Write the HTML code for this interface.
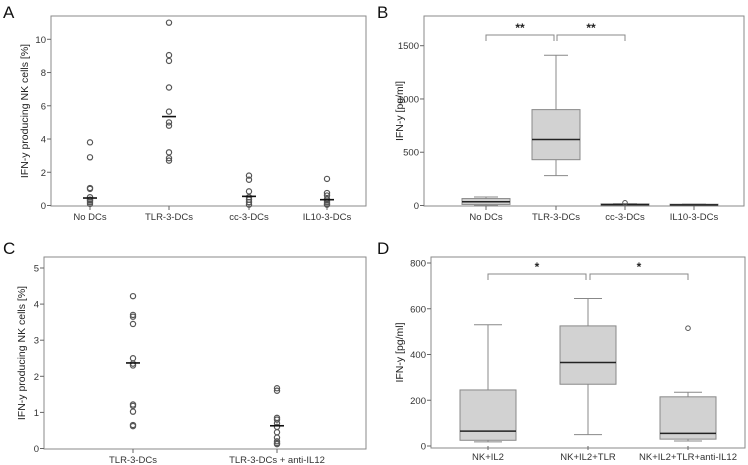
<!DOCTYPE html>
<html><head><meta charset="utf-8"><style>
body{margin:0;background:#fff;}
svg{display:block;font-family:"Liberation Sans",sans-serif;}
</style></head><body>
<svg id="fig" width="748" height="465" viewBox="0 0 748 465"></svg>
<script>
// Panel A data
const catsA=["No DCs","TLR-3-DCs","cc-3-DCs","IL10-3-DCs"];
const ptsA=[[3.8,2.9,1.05,1.0,0.5,0.35,0.3,0.2,0.1],[11,9.05,8.7,7.1,5.65,5.0,4.8,3.2,2.85,2.7],[1.8,1.55,0.85,0.5,0.35,0.2,0.05],[1.6,0.75,0.6,0.4,0.3,0.2,0.1,0.05]];
const medA=[0.45,5.35,0.55,0.35];
const ticksA=[0,2,4,6,8,10];
// Panel B data
const catsB=["No DCs","TLR-3-DCs","cc-3-DCs","IL10-3-DCs"];
const loB=[0,280,0,0],q1B=[10,430,2,2],medB=[35,620,8,6],q3B=[65,900,15,12],hiB=[80,1410,18,14];
const outB=[[],[],[25],[]];
const ticksB=[0,500,1000,1500];
// Panel C data
const catsC=["TLR-3-DCs","TLR-3-DCs + anti-IL12"];
const ptsC=[[4.22,3.7,3.65,3.45,2.5,2.35,2.3,1.22,1.18,1.02,0.65,0.62],[1.67,1.6,0.85,0.8,0.7,0.6,0.45,0.3,0.2,0.15,0.12]];
const medC=[2.37,0.63];
const ticksC=[0,1,2,3,4,5];
// Panel D data
const catsD=["NK+IL2","NK+IL2+TLR","NK+IL2+TLR+anti-IL12"];
const loD=[18,50,22],q1D=[25,270,30],medD=[65,365,55],q3D=[245,525,215],hiD=[530,645,235];
const outD=[[],[],[515]];
const ticksD=[0,200,400,600,800];

const S=document.getElementById('fig');const NS='http://www.w3.org/2000/svg';
function mk(t,a,txt){const e=document.createElementNS(NS,t);for(const k in a)e.setAttribute(k,a[k]);if(txt!==undefined)e.textContent=txt;S.appendChild(e);return e;}

function frame(p){
  const f=mk('rect',{x:p.x0,y:p.top,width:p.x1-p.x0,height:p.bot-p.top,fill:'none',stroke:'#8a8a8a','stroke-width':1});
  
  const L=mk('text',{x:p.lx,y:p.ly,'font-size':17,fill:'#111'},p.letter);
  
  p.ticks.forEach(t=>{const y=p.y(t);
    const l=mk('line',{x1:p.x0-4,x2:p.x0,y1:y,y2:y,stroke:'#666'});
    const tx=mk('text',{x:p.x0-5,y:y+3.5,'font-size':9.5,'text-anchor':'end',fill:'#333'},t);});
  p.cats.forEach((c,i)=>{const x=p.cx[i];
    const l=mk('line',{x1:x,x2:x,y1:p.axis,y2:p.axis+4,stroke:'#666'});
    const tx=mk('text',{x:x,y:p.axis+14,'font-size':9.5,'text-anchor':'middle',fill:'#333'},c);});
  const cy=(p.top+p.bot)/2;
  const yt=mk('text',{x:p.ytx,y:cy,'font-size':10.5,'text-anchor':'middle',fill:'#222',transform:`rotate(-90 ${p.ytx} ${cy})`},p.ytitle);
  
}
function dots(p,pts,med){
  pts.forEach((arr,i)=>{arr.forEach(v=>{const c=mk('circle',{cx:p.cx[i],cy:p.y(v),r:2.6,fill:'none',stroke:'#555','stroke-width':1.2});});
    const m=mk('line',{x1:p.cx[i]-7,x2:p.cx[i]+7,y1:p.y(med[i]),y2:p.y(med[i]),stroke:'#111','stroke-width':1.6});});
}
function boxes(p,lo,q1,md,q3,hi,out,w){
  lo.forEach((_,i)=>{const x=p.cx[i];
    const wl=mk('line',{x1:x,x2:x,y1:p.y(hi[i]),y2:p.y(lo[i]),stroke:'#888'});
    [hi[i],lo[i]].forEach(v=>{const c=mk('line',{x1:x-w/4,x2:x+w/4,y1:p.y(v),y2:p.y(v),stroke:'#888'});});
    const b=mk('rect',{x:x-w/2,y:p.y(q3[i]),width:w,height:Math.max(1,p.y(q1[i])-p.y(q3[i])),fill:'#d2d2d2',stroke:'#888'});
    const m=mk('line',{x1:x-w/2,x2:x+w/2,y1:p.y(md[i]),y2:p.y(md[i]),stroke:'#222','stroke-width':1.5});
    out[i].forEach(v=>{const c=mk('circle',{cx:x,cy:p.y(v),r:2.3,fill:'none',stroke:'#555'});});
  });
}
function bracket(xa,xb,y,star){
  const pth=mk('path',{d:`M${xa} ${y+6}V${y}H${xb}V${y+6}`,fill:'none',stroke:'#888'});
  const s=mk('text',{x:(xa+xb)/2,y:y-3,'font-size':12,'font-weight':'bold','text-anchor':'middle',fill:'#222'},star);
}
function lin(d0,d1,r0,r1){return v=>r0+(v-d0)*(r1-r0)/(d1-d0);}

const A={id:'panel-a',letter:'A',lx:3,ly:18,x0:51,x1:366,top:16,bot:206,axis:206,y:lin(0,10,205.5,39.3),cats:catsA,cx:[90,169,249,327],ticks:ticksA,ytx:28,ytitle:'IFN-y producing NK cells [%]'};
frame(A);dots(A,ptsA,medA);
const B={id:'panel-b',letter:'B',lx:377,ly:18,x0:424,x1:744,top:16,bot:206,axis:206,y:lin(0,1500,205.5,45.7),cats:catsB,cx:[486,556,625,694],ticks:ticksB,ytx:403,ytitle:'IFN-y [pg/ml]'};
frame(B);boxes(B,loB,q1B,medB,q3B,hiB,outB,48);
bracket(486,554,35,'**');bracket(557,625,35,'**');
const C={id:'panel-c',letter:'C',lx:3,ly:254,x0:44,x1:366,top:257,bot:449,axis:449,y:lin(0,5,448.5,268),cats:catsC,cx:[133,277],ticks:ticksC,ytx:25,ytitle:'IFN-y producing NK cells [%]'};
frame(C);dots(C,ptsC,medC);
const D={id:'panel-d',letter:'D',lx:377,ly:254,x0:431,x1:745,top:257,bot:448,axis:446,y:lin(0,800,446,263),cats:catsD,cx:[488,588,688],ticks:ticksD,ytx:403,ytitle:'IFN-y [pg/ml]'};
frame(D);boxes(D,loD,q1D,medD,q3D,hiD,outD,56);
bracket(488,586,274,'*');bracket(590,688,274,'*');
</script>
</body></html>
